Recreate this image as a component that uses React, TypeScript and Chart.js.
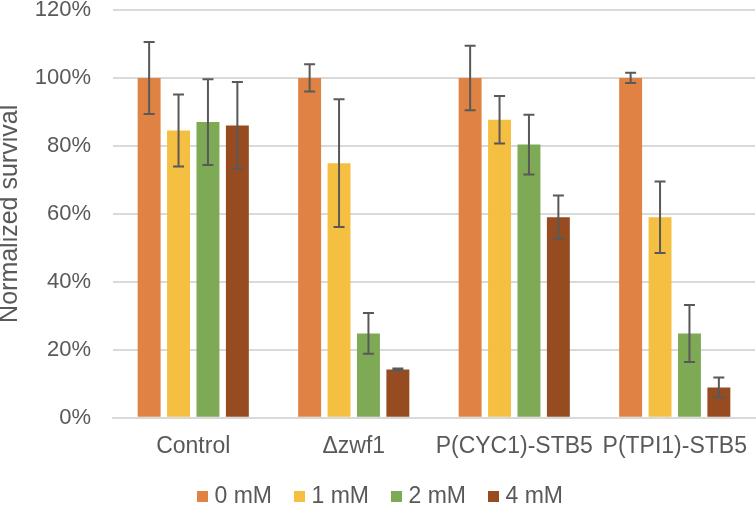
import React, { useEffect, useRef } from "react";
import { Chart, registerables } from "chart.js";

Chart.register(...registerables);

const categories = ["Control", "\u0394zwf1", "P(CYC1)-STB5", "P(TPI1)-STB5"];
const seriesNames = ["0 mM", "1 mM", "2 mM", "4 mM"];
const colors = ["#E08244", "#F5BF42", "#7EA955", "#964B20"];

const values0 = [100, 100, 100, 100];
const values1 = [84.5, 74.9, 87.7, 59.0];
const values2 = [87.0, 24.8, 80.4, 24.8];
const values4 = [86.0, 14.2, 59.0, 8.9];

const errors0 = [10.6, 4.0, 9.5, 1.5];
const errors1 = [10.6, 18.8, 7.0, 10.5];
const errors2 = [12.6, 6.0, 8.8, 8.4];
const errors4 = [12.8, 0.3, 6.4, 2.9];

const yTicks = [0, 20, 40, 60, 80, 100, 120];

const allValues = [values0, values1, values2, values4];
const allErrors = [errors0, errors1, errors2, errors4];

const FONT = "'Liberation Sans', Arial, sans-serif";

function makeSwatch(color: string) {
  const c = document.createElement("canvas");
  c.width = 21;
  c.height = 11;
  const g = c.getContext("2d")!;
  g.fillStyle = color;
  g.fillRect(10, 0, 11, 11);
  return c;
}

const errorBarPlugin = {
  id: "errorBars",
  afterDatasetsDraw(chart: any) {
    const ctx = chart.ctx;
    const yScale = chart.scales.y;
    ctx.save();
    ctx.strokeStyle = "#595959";
    ctx.lineWidth = 2;
    chart.data.datasets.forEach((ds: any, di: number) => {
      const meta = chart.getDatasetMeta(di);
      if (meta.hidden) return;
      meta.data.forEach((bar: any, i: number) => {
        const v = ds.data[i];
        const e = ds.errors[i];
        const x = bar.x;
        const yt = yScale.getPixelForValue(v + e);
        const yb = yScale.getPixelForValue(v - e);
        const cap = 5.5;
        ctx.beginPath();
        ctx.moveTo(x, yt);
        ctx.lineTo(x, yb);
        ctx.moveTo(x - cap, yt);
        ctx.lineTo(x + cap, yt);
        ctx.moveTo(x - cap, yb);
        ctx.lineTo(x + cap, yb);
        ctx.stroke();
      });
    });
    ctx.restore();
  },
};

export default function App() {
  const ref = useRef<HTMLCanvasElement>(null);
  useEffect(() => {
    if (!ref.current) return;
    const swatches = colors.map(makeSwatch);
    const chart: any = new Chart(ref.current, {
      type: "bar",
      data: {
        labels: categories,
        datasets: seriesNames.map((name, k) => ({
          label: name,
          data: allValues[k],
          errors: allErrors[k],
          backgroundColor: colors[k],
          borderWidth: 0,
          categoryPercentage: 0.733,
          barPercentage: 0.78,
        })) as any,
      },
      options: {
        animation: false,
        responsive: false,
        maintainAspectRatio: false,
        layout: { padding: { top: 10, right: 1, left: 0, bottom: 2 } },
        plugins: {
          tooltip: { enabled: false },
          legend: {
            position: "bottom",
            labels: {
              usePointStyle: true,
              pointStyleWidth: 11,
              boxWidth: 11,
              boxHeight: 11,
              padding: 17,
              color: "#595959",
              font: { family: FONT, size: 23 },
              generateLabels(ch: any) {
                const items = Chart.defaults.plugins.legend.labels.generateLabels(ch);
                items.forEach((it: any, i: number) => {
                  it.pointStyle = swatches[i];
                });
                return items;
              },
            },
          },
        },
        scales: {
          x: {
            afterFit(axis: any) {
              axis.paddingLeft = 0;
              axis.paddingRight = 0;
              axis.height = 50.3;
            },
            grid: { display: false, drawTicks: false },
            border: { color: "#D9D9D9", width: 2 },
            ticks: {
              color: "#595959",
              padding: 15,
              maxRotation: 0,
              autoSkip: false,
              font: { family: FONT, size: 23 },
            },
          },
          y: {
            min: 0,
            max: 120,
            afterBuildTicks(axis: any) {
              axis.ticks = yTicks.map((v) => ({ value: v }));
            },
            afterFit(axis: any) {
              axis.paddingTop = 0;
              axis.width = 113;
            },
            grid: { color: "#D9D9D9", lineWidth: 2, drawTicks: false },
            border: { display: false },
            ticks: {
              color: "#595959",
              padding: 22,
              callback: (v: any) => v + "%",
              font: { family: FONT, size: 22 },
            },
            title: {
              display: true,
              text: "Normalized survival",
              color: "#595959",
              padding: { top: -5, bottom: 4 },
              font: { family: FONT, size: 25 },
            },
          },
        },
      },
      plugins: [errorBarPlugin],
    });
    return () => chart.destroy();
  }, []);
  return (
    <div style={{ position: "fixed", left: 0, top: 0, width: 756, height: 520, background: "#fff" }}>
      <canvas ref={ref} width={756} height={520} />
    </div>
  );
}
